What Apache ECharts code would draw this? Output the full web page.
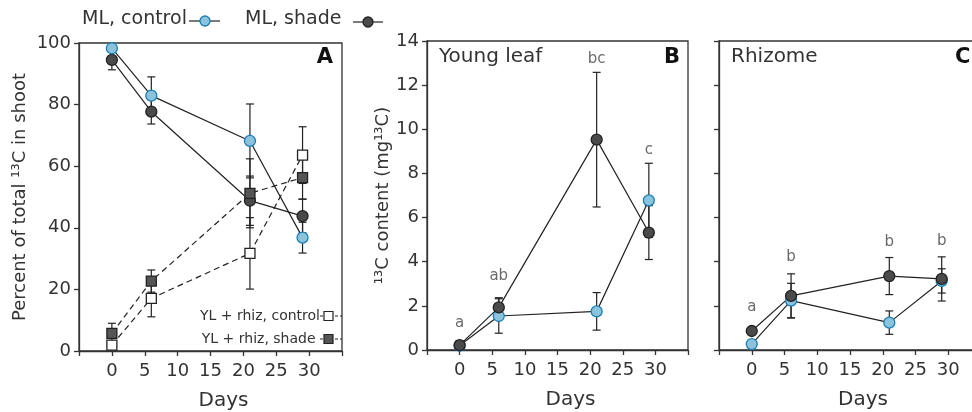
<!DOCTYPE html>
<html>
<head>
<meta charset="utf-8">
<script src="https://cdn.jsdelivr.net/npm/echarts@6/dist/echarts.min.js"></script>
<style>
html,body{margin:0;padding:0;background:#fff;}
#chart{width:972px;height:412px;}
</style>
</head>
<body>
<div id="chart"></div>
<script>
// ---------- data ----------
const days = [0, 6, 21, 29];
const xTicks = [0, 5, 10, 15, 20, 25, 30];

// Panel A: percent of total 13C in shoot
const mlControl = [98.3, 82.9, 68.2, 36.8];
const mlControlErr = [1.0, 6.1, 12.0, 5.0];
const mlShade = [94.5, 77.7, 48.8, 43.8];
const mlShadeErr = [3.2, 4.0, 8.0, 5.5];
const ylControl = [1.9, 17.1, 31.7, 63.6];
const ylControlErr = [1.5, 6.0, 11.6, 9.2];
const ylShade = [5.7, 22.7, 51.2, 56.3];
const ylShadeErr = [3.3, 3.6, 11.2, 7.0];

// Panel B: young leaf 13C content (mg 13C)
const youngControl = [0.2, 1.54, 1.75, 6.78];
const youngControlErr = [0.15, 0.78, 0.85, 1.68];
const youngShade = [0.22, 1.93, 9.53, 5.32];
const youngShadeErr = [0.2, 0.44, 3.05, 1.22];
const lettersB = ['a', 'ab', 'bc', 'c'];
const letterValB = [1.2, 3.35, 13.2, 9.05];

// Panel C: rhizome 13C content (mg 13C)
const rhizControl = [0.27, 2.24, 1.24, 3.13];
const rhizControlErr = [0.1, 0.78, 0.53, 0.55];
const rhizShade = [0.86, 2.45, 3.35, 3.22];
const rhizShadeErr = [0.15, 1.0, 0.84, 1.0];
const lettersC = ['a', 'b', 'b', 'b'];
const letterValC = [1.96, 4.23, 4.88, 4.95];

// ---------- styling ----------
const FONT = 'DejaVu Sans';
const TXT = '#333';
const AX = '#333';
const BLUE_FILL = '#8cc3dc';
const BLUE_EDGE = '#1b7fb3';
const DARK_FILL = '#4a4a4a';
const DARK_EDGE = '#222';

const chart = echarts.init(document.getElementById('chart'), null, {renderer: 'canvas'});

function pairs(vals) { return days.map((d, i) => [d, vals[i]]); }
function errData(vals, errs) { return days.map((d, i) => [d, vals[i] - errs[i], vals[i] + errs[i]]); }

function errSeries(idx, vals, errs) {
  return {
    type: 'custom', xAxisIndex: idx, yAxisIndex: idx, z: 1, silent: true,
    data: errData(vals, errs),
    renderItem: function (params, api) {
      const x = api.value(0);
      const lo = api.coord([x, api.value(1)]);
      const hi = api.coord([x, api.value(2)]);
      const w = 4;
      const st = {stroke: '#222', lineWidth: 1.2};
      return {type: 'group', children: [
        {type: 'line', shape: {x1: lo[0], y1: lo[1], x2: hi[0], y2: hi[1]}, style: st},
        {type: 'line', shape: {x1: lo[0] - w, y1: lo[1], x2: lo[0] + w, y2: lo[1]}, style: st},
        {type: 'line', shape: {x1: hi[0] - w, y1: hi[1], x2: hi[0] + w, y2: hi[1]}, style: st}
      ]};
    }
  };
}

function lineSeries(idx, vals, kind) {
  const s = {
    type: 'line', xAxisIndex: idx, yAxisIndex: idx, z: 3, data: pairs(vals),
    symbolSize: 11, animation: false,
    lineStyle: {color: '#222', width: 1.2},
    itemStyle: {borderWidth: 1.3}
  };
  if (kind === 'blue') { s.symbol = 'circle'; s.itemStyle.color = BLUE_FILL; s.itemStyle.borderColor = BLUE_EDGE; }
  if (kind === 'dark') { s.symbol = 'circle'; s.itemStyle.color = DARK_FILL; s.itemStyle.borderColor = DARK_EDGE; }
  if (kind === 'open') { s.symbol = 'rect'; s.symbolSize = 10; s.itemStyle.color = '#fff'; s.itemStyle.borderColor = '#222'; s.lineStyle.type = [6, 4]; }
  if (kind === 'darksq') { s.symbol = 'rect'; s.symbolSize = 10; s.itemStyle.color = '#555'; s.itemStyle.borderColor = '#222'; s.lineStyle.type = [6, 4]; }
  return s;
}

function letterSeries(idx, letters, vals) {
  return {
    type: 'scatter', xAxisIndex: idx, yAxisIndex: idx, z: 4, silent: true,
    symbolSize: 1, itemStyle: {color: 'rgba(0,0,0,0)'},
    data: days.map((d, i) => ({value: [d, vals[i]], name: letters[i]})),
    label: {show: true, position: 'inside', formatter: p => p.name,
            fontFamily: FONT, fontSize: 15, color: '#444'}
  };
}

function xAxis(idx) {
  return {
    type: 'value', gridIndex: idx, min: -5, max: 35, interval: 5,
    name: 'Days', nameLocation: 'middle', nameGap: 40,
    nameTextStyle: {fontFamily: FONT, fontSize: 20, color: TXT, padding: [0, 0, 0, 26]},
    axisLine: {onZero: false, lineStyle: {color: AX, width: 1.3}},
    axisTick: {show: true, length: 5, inside: false, lineStyle: {color: AX, width: 1.3}},
    axisLabel: {fontFamily: FONT, fontSize: 18, color: TXT, margin: 11,
      formatter: v => (xTicks.indexOf(v) >= 0 ? String(v) : '')},
    splitLine: {show: false}
  };
}

function yAxis(idx, max, interval, name, gap, showLabels) {
  return {
    type: 'value', gridIndex: idx, min: 0, max: max, interval: interval,
    name: name, nameLocation: 'middle', nameGap: gap,
    nameTextStyle: {fontFamily: FONT, fontSize: 18, color: TXT},
    axisLine: {show: true, onZero: false, lineStyle: {color: AX, width: 1.3}},
    axisTick: {show: true, length: 5, lineStyle: {color: AX, width: 1.3}},
    axisLabel: {show: showLabels, fontFamily: FONT, fontSize: 18, color: TXT, margin: 8},
    splitLine: {show: false}
  };
}

const gridStyle = {show: true, borderColor: AX, borderWidth: 1.3, backgroundColor: 'transparent',
                   containLabel: false, outerBoundsMode: 'none'};

const option = {
  animation: false,
  backgroundColor: '#fff',
  grid: [
    Object.assign({left: 79, top: 43, width: 263, height: 308}, gridStyle),
    Object.assign({left: 427, top: 41, width: 261, height: 309}, gridStyle),
    Object.assign({left: 719, top: 41, width: 262, height: 309}, gridStyle)
  ],
  xAxis: [xAxis(0), xAxis(1), xAxis(2)],
  yAxis: [
    yAxis(0, 100, 20, 'Percent of total ¹³C in shoot', 50, true),
    yAxis(1, 14, 2, '¹³C content (mg¹³C)', 34, true),
    yAxis(2, 14, 2, '', 30, false)
  ],
  series: [
    errSeries(0, mlShade, mlShadeErr),
    errSeries(0, mlControl, mlControlErr),
    errSeries(0, ylControl, ylControlErr),
    errSeries(0, ylShade, ylShadeErr),
    lineSeries(0, mlShade, 'dark'),
    lineSeries(0, mlControl, 'blue'),
    lineSeries(0, ylControl, 'open'),
    lineSeries(0, ylShade, 'darksq'),

    errSeries(1, youngControl, youngControlErr),
    errSeries(1, youngShade, youngShadeErr),
    lineSeries(1, youngControl, 'blue'),
    lineSeries(1, youngShade, 'dark'),
    letterSeries(1, lettersB, letterValB),

    errSeries(2, rhizControl, rhizControlErr),
    errSeries(2, rhizShade, rhizShadeErr),
    lineSeries(2, rhizControl, 'blue'),
    lineSeries(2, rhizShade, 'dark'),
    letterSeries(2, lettersC, letterValC)
  ],
  graphic: [
    // top legend
    {type: 'text', left: 82, top: 10, style: {text: 'ML, control', fontFamily: FONT, fontSize: 19, fill: TXT}},
    {type: 'line', shape: {x1: 189, y1: 21, x2: 220, y2: 21}, style: {stroke: '#222', lineWidth: 1.2}},
    {type: 'circle', shape: {cx: 205, cy: 21, r: 5}, style: {fill: BLUE_FILL, stroke: BLUE_EDGE, lineWidth: 1.3}},
    {type: 'text', left: 245, top: 10, style: {text: 'ML, shade', fontFamily: FONT, fontSize: 19, fill: TXT}},
    {type: 'line', shape: {x1: 353, y1: 22, x2: 383, y2: 22}, style: {stroke: '#222', lineWidth: 1.2}},
    {type: 'circle', shape: {cx: 368, cy: 22, r: 5}, style: {fill: DARK_FILL, stroke: DARK_EDGE, lineWidth: 1.3}},

    // panel A inner legend
    {type: 'text', style: {x: 320, y: 316, text: 'YL + rhiz, control', align: 'right', verticalAlign: 'middle', fontFamily: FONT, fontSize: 14, fill: TXT}},
    {type: 'line', shape: {x1: 320, y1: 316, x2: 342, y2: 316}, style: {stroke: '#222', lineWidth: 1.1, lineDash: [3, 2]}},
    {type: 'rect', shape: {x: 324, y: 311.5, width: 9, height: 9}, style: {fill: '#fff', stroke: '#222', lineWidth: 1.2}},
    {type: 'text', style: {x: 320, y: 339, text: 'YL + rhiz, shade ', align: 'right', verticalAlign: 'middle', fontFamily: FONT, fontSize: 14, fill: TXT}},
    {type: 'line', shape: {x1: 320, y1: 339, x2: 342, y2: 339}, style: {stroke: '#222', lineWidth: 1.1, lineDash: [3, 2]}},
    {type: 'rect', shape: {x: 324, y: 334.5, width: 9, height: 9}, style: {fill: '#555', stroke: '#222', lineWidth: 1.2}},

    // panel letters
    {type: 'text', style: {x: 333, y: 58, text: 'A', align: 'right', verticalAlign: 'middle', fontFamily: FONT, fontWeight: 900, fontSize: 21, fill: '#111'}},
    {type: 'text', style: {x: 680, y: 58, text: 'B', align: 'right', verticalAlign: 'middle', fontFamily: FONT, fontWeight: 900, fontSize: 21, fill: '#111'}},
    {type: 'text', style: {x: 955, y: 58, text: 'C', align: 'left', verticalAlign: 'middle', fontFamily: FONT, fontWeight: 900, fontSize: 21, fill: '#111'}},

    // panel titles
    {type: 'text', style: {x: 439, y: 57, text: 'Young leaf', verticalAlign: 'middle', fontFamily: FONT, fontSize: 20, fill: TXT}},
    {type: 'text', style: {x: 731, y: 57, text: 'Rhizome', verticalAlign: 'middle', fontFamily: FONT, fontSize: 20, fill: TXT}}
  ]
};

chart.setOption(option);
</script>
</body>
</html>
